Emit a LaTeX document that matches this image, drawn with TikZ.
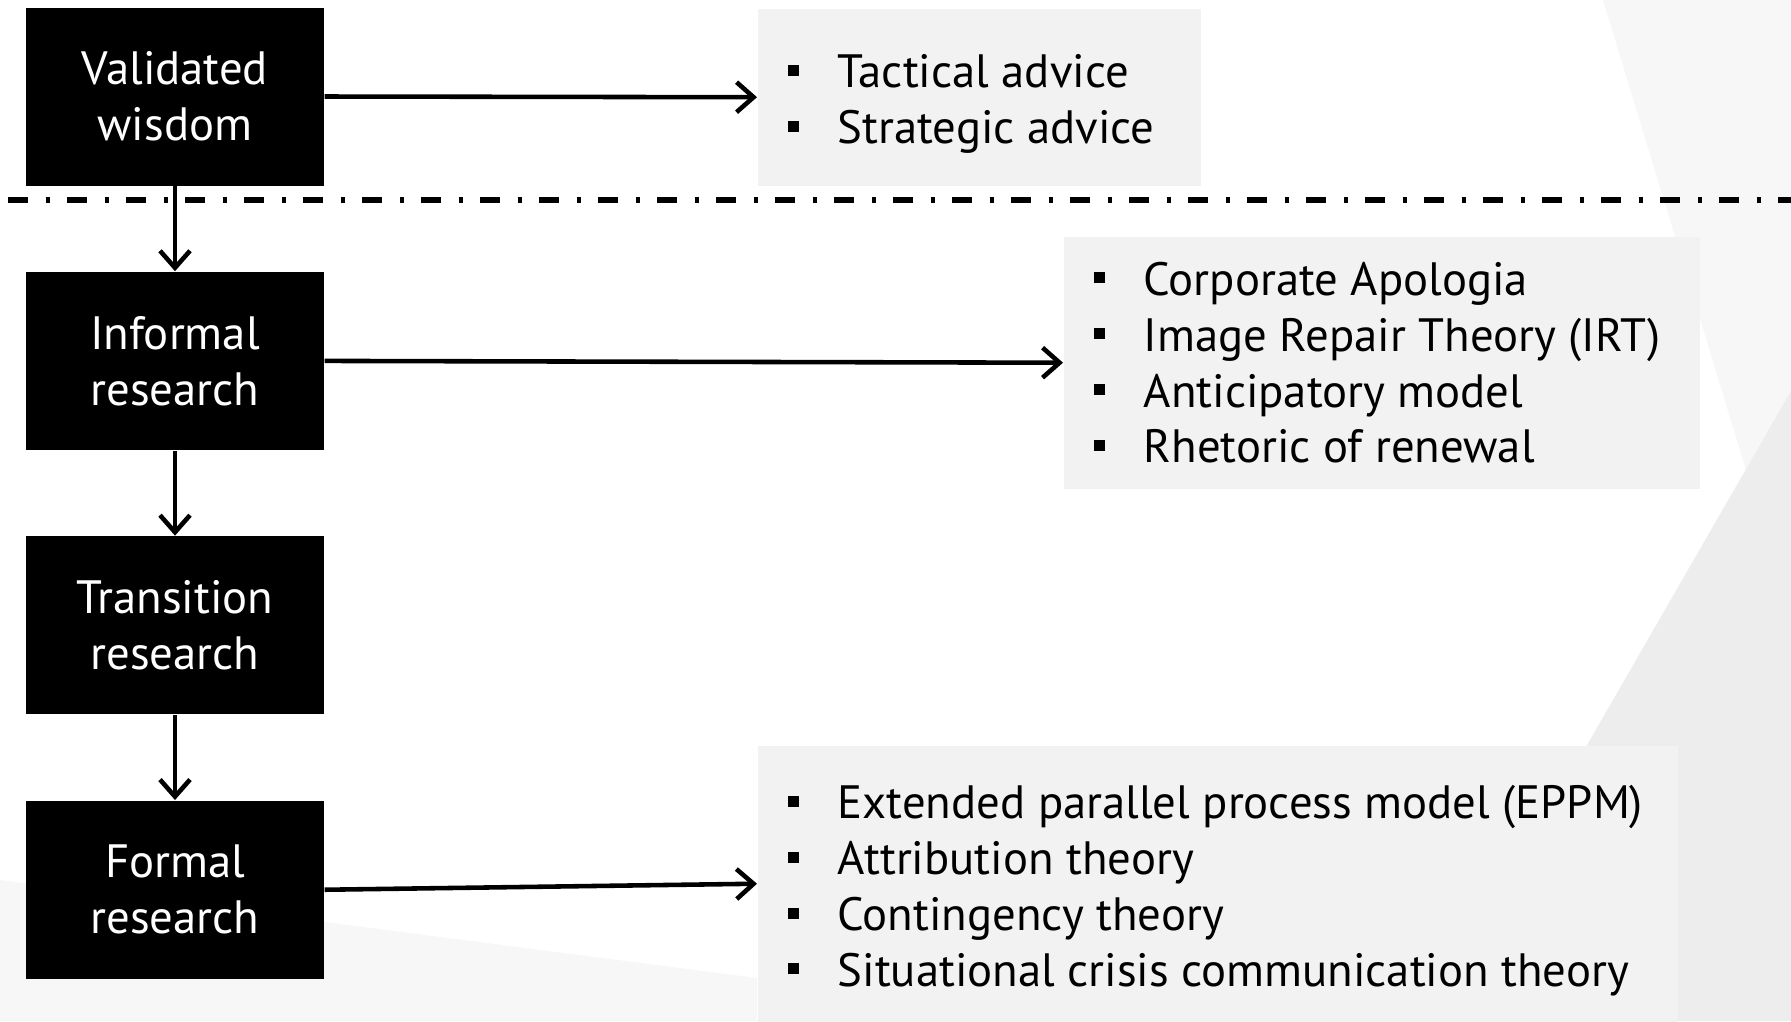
\documentclass[tikz,border=0pt]{standalone}
\usepackage{fontspec}
\setmainfont{PT Sans}
\usetikzlibrary{arrows.meta,calc,positioning}
\definecolor{ink}{HTML}{000000}
\definecolor{panel}{HTML}{F2F2F2}
\definecolor{facet}{HTML}{F7F7F7}
\definecolor{facetdark}{HTML}{EDEDED}
\newcommand{\sqbullet}{\rule[1.2mm]{1.1mm}{1.1mm}}
\newcommand{\itm}[1]{\makebox[5mm][l]{\sqbullet}#1}
\tikzset{
  every node/.style={font=\fontsize{13.3}{15.9}\selectfont, text=ink, inner sep=0pt},
  stage/.style={fill=black, text=white, minimum width=29.8mm, minimum height=17.8mm, align=center},
  panelbox/.style={fill=panel, anchor=north west},
  list/.style={align=left, anchor=west},
  arr/.style={-{Straight Barb[length=1.7mm,width=3mm]}, draw=ink, line width=1.3pt},
  split/.style={draw=ink, line width=1.5pt, dash pattern=on 2mm off 1.75mm on 0.4mm off 1.75mm},
}

\begin{document}
\begin{tikzpicture}
\useasboundingbox (0,0) rectangle (17.91,-10.21);
% ---- background facets --------------------------------------------------------
\fill[white] (0,0) rectangle (17.91,-10.21);
\fill[facet] (16.03,0) -- (17.91,0) -- (17.91,-3.91) -- (17.46,-4.70) -- cycle;
\fill[facetdark] (17.91,-3.91) -- (14.28,-10.21) -- (17.91,-10.21) -- cycle;
\fill[facet] (0,-8.80) -- (7.57,-9.78) -- (7.57,-10.21) -- (0,-10.21) -- cycle;

% ---- stages -------------------------------------------------------------------
\node[stage] (wisdom) at (1.75,-0.965) {Validated\\wisdom};
\node[stage, below=8.5mm of wisdom] (informal) {Informal\\research};
\node[stage, below=8.5mm of informal] (transition) {Transition\\research};
\node[stage, below=8.5mm of transition] (formal) {Formal\\research};

% ---- outcome panels -----------------------------------------------------------
\node[panelbox, minimum width=44.3mm, minimum height=17.7mm] (advice) at (7.57,-0.08) {};
\node[panelbox, minimum width=63.6mm, minimum height=25.2mm] (models) at (10.63,-2.36) {};
\node[panelbox, minimum width=92mm, minimum height=27.6mm] (theories) at (7.57,-7.45) {};

\node[list] (adviceT) at ([xshift=3mm, yshift=-0.7mm]advice.west)
  {\itm{Tactical advice}\\\itm{Strategic advice}};
\node[list] (modelsT) at ([xshift=3mm]models.west)
  {\itm{Corporate Apologia}\\\itm{Image Repair Theory (IRT)}\\\itm{Anticipatory model}\\\itm{Rhetoric of renewal}};
\node[list] (theoriesT) at ([xshift=3mm, yshift=-0.7mm]theories.west)
  {\itm{Extended parallel process model (EPPM)}\\\itm{Attribution theory}\\\itm{Contingency theory}\\\itm{Situational crisis communication theory}};

% ---- divider ------------------------------------------------------------------
\coordinate (divL) at (0.08,-2.0);
\coordinate (divR) at (17.91,-2.0);
\draw[split] (divL) -- (divR);

% ---- edges --------------------------------------------------------------------
\draw[arr] (wisdom) -- (informal);
\draw[arr] (informal) -- (transition);
\draw[arr] (transition) -- (formal);
\draw[arr] (wisdom.east) -- (advice.west);
\draw[arr] (informal.east) -- (models.west);
\draw[arr] (formal.east) -- (theories.west);
\end{tikzpicture}
\end{document}
